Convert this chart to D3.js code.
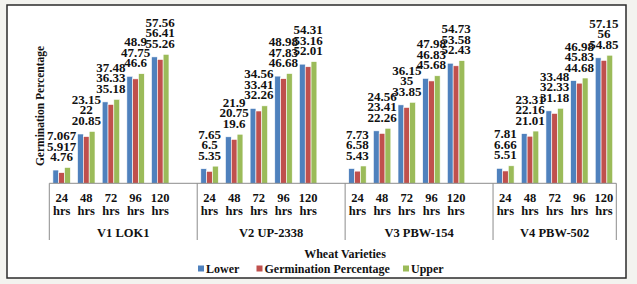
<!DOCTYPE html>
<html>
<head>
<meta charset="utf-8">
<script src="https://cdn.jsdelivr.net/npm/d3@7"></script>
<style>
  body { margin: 0; background: #f3f3ef; }
  svg text { font-family: "Liberation Serif", "Times New Roman", serif; font-weight: bold; fill: #111; }
</style>
</head>
<body>
<script>
// wheat varieties and the hours of each reading
var varieties = ["V1 LOK1", "V2 UP-2338", "V3 PBW-154", "V4 PBW-502"];
var hours = ["24", "48", "72", "96", "120"];

// series (one row per variety)
var lower = [
  [5.917, 22, 36.33, 47.75, 56.41],
  [6.5, 20.75, 33.41, 47.83, 53.16],
  [6.58, 23.41, 35, 46.83, 53.58],
  [6.66, 22.16, 32.33, 45.83, 56]
];
var germination = [
  [4.76, 20.85, 35.18, 46.6, 55.26],
  [5.35, 19.6, 32.26, 46.68, 52.01],
  [5.43, 22.26, 33.85, 45.68, 52.43],
  [5.51, 21.01, 31.18, 44.68, 54.85]
];
var upper = [
  [7.067, 23.15, 37.48, 48.9, 57.56],
  [7.65, 21.9, 34.56, 48.98, 54.31],
  [7.73, 24.56, 36.15, 47.98, 54.73],
  [7.81, 23.31, 33.48, 46.98, 57.15]
];

var seriesNames = ["Lower", "Germination Percentage", "Upper"];
var seriesData = [lower, germination, upper];
var colors = ["#4f81bd", "#c0504d", "#9bbb59"];

var W = 637, H = 284;
var svg = d3.select("body").append("svg").attr("width", W).attr("height", H);

// frame
svg.append("rect").attr("x", 7).attr("y", 5).attr("width", 619).attr("height", 273)
   .attr("fill", "#fff").attr("stroke", "#2b2b2b").attr("stroke-width", 1.5);

// slots: 5 hours per variety plus one blank slot between varieties
var slots = [];
varieties.forEach(function (v, g) {
  hours.forEach(function (h, i) { slots.push(g + "-" + i); });
  if (g < varieties.length - 1) slots.push(g + "-blank");
});

var x = d3.scaleBand().domain(slots).range([49.3, 616.3]).padding(0);
var inner = d3.scaleBand().domain([0, 1, 2]).range([3.6, x.bandwidth() - 3.6]).padding(0);
var y = d3.scaleLinear().domain([0, 60]).range([183.3, 183.3 - 60 * 2.241]);

// bars
var rows = [];
varieties.forEach(function (v, g) {
  hours.forEach(function (h, i) {
    rows.push({ g: g, i: i, vals: seriesData.map(function (s) { return s[g][i]; }) });
  });
});

var cell = svg.selectAll("g.cell").data(rows).enter().append("g")
  .attr("class", "cell")
  .attr("transform", function (d) { return "translate(" + x(d.g + "-" + d.i) + ",0)"; });

cell.selectAll("rect").data(function (d) { return d.vals; }).enter().append("rect")
  .attr("x", function (d, k) { return inner(k); })
  .attr("y", function (d) { return y(d); })
  .attr("width", inner.bandwidth())
  .attr("height", function (d) { return y(0) - y(d); })
  .attr("fill", function (d, k) { return colors[k]; })
  .attr("stroke", "#fff").attr("stroke-width", 0.6);

// value labels, stacked above the tallest bar (highest value on top)
cell.each(function (d) {
  var sorted = d.vals.slice().sort(function (a, b) { return a - b; });
  var top = y(sorted[2]);
  var cx = x.bandwidth() / 2;
  d3.select(this).selectAll("text.val").data(sorted).enter().append("text")
    .attr("class", "val")
    .attr("x", cx)
    .attr("y", function (v, k) { return top - 11 - k * 10.5; })
    .attr("dy", "0.35em")
    .attr("text-anchor", "middle")
    .style("font-size", "13px")
    .text(function (v) { return String(v); });
});

// axis line
svg.append("line").attr("x1", x.range()[0]).attr("x2", x.range()[1])
   .attr("y1", y(0)).attr("y2", y(0)).attr("stroke", "#8c8c8c").attr("stroke-width", 1);

// group separators
var groupBounds = [];
varieties.forEach(function (v, g) {
  var own = slots.filter(function (s) { return s.split("-")[0] == g; });
  var x0 = x(own[0]), x1 = x(own[own.length - 1]) + x.bandwidth();
  groupBounds.push({ name: v, x0: x0, x1: x1 });
});
var seps = [groupBounds[0].x0].concat(groupBounds.map(function (b) { return b.x1; }));
svg.selectAll("line.sep").data(seps).enter().append("line")
  .attr("class", "sep")
  .attr("x1", function (d) { return d; }).attr("x2", function (d) { return d; })
  .attr("y1", y(0)).attr("y2", 240)
  .attr("stroke", "#8c8c8c").attr("stroke-width", 1);

// category labels
rows.forEach(function (d) {
  var cx = x(d.g + "-" + d.i) + x.bandwidth() / 2;
  var t = svg.append("text").attr("text-anchor", "middle").style("font-size", "12.5px");
  t.append("tspan").attr("x", cx).attr("y", 202).text(hours[d.i]);
  t.append("tspan").attr("x", cx).attr("y", 215).text("hrs");
});

// variety labels
svg.selectAll("text.grp").data(groupBounds).enter().append("text")
  .attr("class", "grp")
  .attr("x", function (d) { return (d.x0 + d.x1) / 2; })
  .attr("y", 237)
  .attr("text-anchor", "middle")
  .style("font-size", "12.5px")
  .text(function (d) { return d.name; });

// axis titles
svg.append("text").attr("x", 345).attr("y", 258).attr("text-anchor", "middle")
   .style("font-size", "12px").text("Wheat Varieties");
svg.append("text").attr("transform", "translate(44,106) rotate(-90)")
   .attr("text-anchor", "middle").style("font-size", "11.5px").text("Germination Percentage");

// legend
var legendX = [198, 256.5, 403];
var leg = svg.selectAll("g.leg").data(seriesNames).enter().append("g")
  .attr("class", "leg")
  .attr("transform", function (d, k) { return "translate(" + legendX[k] + ",269)"; });
leg.append("rect").attr("x", 0).attr("y", -3.5).attr("width", 6).attr("height", 6)
  .attr("fill", function (d, k) { return colors[k]; });
leg.append("text").attr("x", 8).attr("y", 0).attr("dy", "0.35em")
  .style("font-size", "12px").text(function (d) { return d; });
</script>
</body>
</html>
